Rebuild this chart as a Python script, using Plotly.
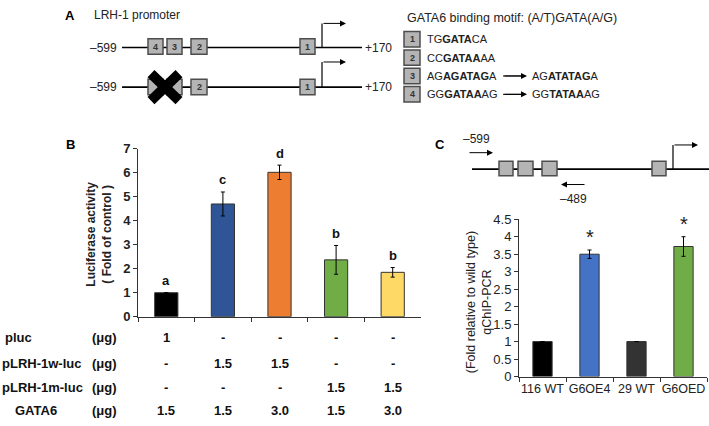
import plotly.graph_objects as go

W, H = 709, 426
FONT = "Arial, Liberation Sans, sans-serif"

# ---------------- Data ----------------
# Panel B
b_groups = ["G1", "G2", "G3", "G4", "G5"]
b_values = [1.0, 4.7, 6.02, 2.37, 1.85]
b_errors = [0.0, 0.5, 0.3, 0.6, 0.2]
b_letters = ["a", "c", "d", "b", "b"]
b_colors = ["#000000", "#2f5597", "#ed7d31", "#70ad47", "#ffd966"]
b_ytitle = ["Luciferase activity", "( Fold of control )"]
row_names = ["pluc", "pLRH-1w-luc", "pLRH-1m-luc", "GATA6"]
row_pluc = ["1", "-", "-", "-", "-"]
row_w = ["-", "1.5", "1.5", "-", "-"]
row_m = ["-", "-", "-", "1.5", "1.5"]
row_gata6 = ["1.5", "1.5", "3.0", "1.5", "3.0"]
table_rows = [row_pluc, row_w, row_m, row_gata6]

# Panel C
c_groups = ["116 WT", "G6OE4", "29 WT", "G6OED"]
c_values = [1.0, 3.5, 1.0, 3.72]
c_errors = [0.0, 0.12, 0.0, 0.28]
c_marks = ["", "*", "", "*"]
c_colors = ["#000000", "#4472c4", "#333333", "#70ad47"]

# Panel A motif text
motif_nums = ["1", "2", "3", "4"]
motif_seqs = ["TG<b>GATA</b>CA", "CC<b>GATAA</b>AA", "AG<b>AGATAG</b>A", "GG<b>GATAA</b>AG"]
motif_mut = ["", "", "AG<b>ATATAG</b>A", "GG<b>TATAA</b>AG"]


def px(x):
    return x / W


def py(y):
    return 1 - y / H


fig = go.Figure()

# Panel B bars
fig.add_trace(go.Bar(
    x=b_groups, y=b_values, width=0.41,
    marker=dict(color=b_colors, line=dict(color="#333333", width=1)),
    error_y=dict(type="data", array=b_errors, visible=True, color="#000000", thickness=1, width=2),
    xaxis="x", yaxis="y", showlegend=False, hoverinfo="skip"))

# Panel C bars
fig.add_trace(go.Bar(
    x=c_groups, y=c_values, width=0.41,
    marker=dict(color=c_colors, line=dict(color="#333333", width=1)),
    error_y=dict(type="data", array=c_errors, visible=True, color="#000000", thickness=1, width=2),
    xaxis="x2", yaxis="y2", showlegend=False, hoverinfo="skip"))

shapes = []
ann = []


def line(x0, y0, x1, y1, w=1.5, color="#000000"):
    shapes.append(dict(type="line", xref="paper", yref="paper",
                       x0=px(x0), y0=py(y0), x1=px(x1), y1=py(y1),
                       line=dict(color=color, width=w)))


def box(x0, y0, x1, y1):
    shapes.append(dict(type="rect", xref="paper", yref="paper",
                       x0=px(x0), y0=py(y0), x1=px(x1), y1=py(y1),
                       fillcolor="#b4b4b4", line=dict(color="#4d4d4d", width=1.5)))


def text(x, y, s, size=12, xanchor="left", bold=False, color="#222222", angle=0):
    ann.append(dict(xref="paper", yref="paper", x=px(x), y=py(y), text=("<b>%s</b>" % s) if bold else s,
                    showarrow=False, xanchor=xanchor, yanchor="middle", textangle=angle,
                    font=dict(family=FONT, size=size, color=color)))


def arrow(x_tail, y_tail, x_head, y_head):
    ann.append(dict(xref="paper", yref="paper", x=px(x_head), y=py(y_head),
                    ax=x_tail - x_head, ay=y_tail - y_head, axref="pixel", ayref="pixel",
                    text="", showarrow=True, arrowhead=2, arrowsize=1.2, arrowwidth=1,
                    arrowcolor="#000000", standoff=0, startstandoff=0))


# ---------------- Panel A ----------------
text(70, 9, "A", size=13, xanchor="center", bold=True, color="#000000")
text(92, 8, "LRH-1 promoter", size=12)
for yc, top in [(42, 17), (83, 57)]:
    line(122, yc, 362, yc, w=1.6)
    text(119, yc, "\u2013599", size=12, xanchor="right")
    text(363, yc, "+170", size=12)
    # transcription start arrow
    line(322, yc, 322, top, w=1.2)
    arrow(322, top, 346, top)
# row 1 boxes
for (x0, x1), lab in zip([(148, 163), (167, 182), (191, 207), (300, 315)], ["4", "3", "2", "1"]):
    box(x0, 33, x1, 49)
    text((x0 + x1) / 2, 41, lab, size=9, xanchor="center", bold=True, color="#333333")
for (x0, x1), lab in zip([(148, 163), (167, 182), (191, 207), (300, 315)], ["4", "3", "2", "1"]):
    box(x0, 75, x1, 91)
    if lab in ("2", "1"):
        text((x0 + x1) / 2, 83, lab, size=9, xanchor="center", bold=True, color="#333333")
# X mark
line(151, 69, 179, 97, w=10)
line(151, 97, 179, 69, w=10)

# motif legend
text(405, 11, "GATA6 binding motif: (A/T)GATA(A/G)", size=12.5)
for i, (num, seq, mut) in enumerate(zip(motif_nums, motif_seqs, motif_mut)):
    yc = 33.5 + i * 19
    box(404, yc - 8, 420, yc + 8)
    text(412, yc, num, size=9, xanchor="center", bold=True, color="#333333")
    text(425, yc, seq, size=11)
    if mut:
        line(503, yc, 522, yc, w=1)
        arrow(503, yc, 527, yc)
        text(530, yc, mut, size=11)

# ---------------- Panel B extras ----------------
text(70, 143, "B", size=13, xanchor="center", bold=True, color="#000000")
ann.append(dict(xref="paper", yref="paper", x=px(99), y=py(236),
                text="<b>%s<br>%s</b>" % tuple(b_ytitle), showarrow=False, textangle=-90,
                xanchor="center", yanchor="middle", font=dict(family=FONT, size=12, color="#222222")))
for g, v, e, l in zip(b_groups, b_values, b_errors, b_letters):
    ann.append(dict(xref="x", yref="y", x=g, y=v + e, text="<b>%s</b>" % l, showarrow=False,
                    yshift=12, yanchor="middle", font=dict(family=FONT, size=13, color="#111111")))
row_y = [343, 369, 394, 418]
row_x = [3, 0, 0, 13]
for name, vals, yy, xx in zip(row_names, table_rows, row_y, row_x):
    text(xx, yy, name, size=13, bold=True, color="#111111")
    text(119, yy, "(\u03bcg)", size=13, xanchor="right", bold=True, color="#111111")
    for g, v in zip(b_groups, vals):
        ann.append(dict(xref="x", yref="paper", x=g, y=py(yy), text="<b>%s</b>" % v, showarrow=False,
                        yanchor="middle", font=dict(family=FONT, size=13, color="#111111")))

# ---------------- Panel C extras ----------------
text(440, 143, "C", size=13, xanchor="center", bold=True, color="#000000")
text(477, 137, "\u2013599", size=12, xanchor="center")
arrow(468, 151, 493, 151)
line(472, 168, 709, 168, w=1.6)
for x0, x1 in [(499, 513), (518, 533), (542, 557), (652, 666)]:
    box(x0, 160, x1, 175)
line(673, 168, 673, 143, w=1.2)
arrow(673, 143, 698, 143)
arrow(586, 184, 561, 184)
text(573, 199, "\u2013489", size=12, xanchor="center")
ann.append(dict(xref="paper", yref="paper", x=px(479), y=py(306),
                text="(Fold relative to wild type)<br>qChIP-PCR", showarrow=False, textangle=-90,
                xanchor="center", yanchor="middle", font=dict(family=FONT, size=12.5, color="#222222")))
for g, v, e, m in zip(c_groups, c_values, c_errors, c_marks):
    if m:
        ann.append(dict(xref="x2", yref="y2", x=g, y=v + e, text=m, showarrow=False,
                        yshift=13, yanchor="middle", font=dict(family=FONT, size=20, color="#222222")))

axis_common = dict(showgrid=False, zeroline=False, showline=True, linecolor="#333333", linewidth=1,
                   ticks="outside", tickcolor="#333333", ticklen=4)

fig.update_layout(
    width=W, height=H, margin=dict(l=0, r=0, t=0, b=0),
    paper_bgcolor="#ffffff", plot_bgcolor="#ffffff",
    font=dict(family=FONT, color="#222222"),
    bargap=0.5,
    xaxis=dict(domain=[px(138), px(421)], anchor="y", showticklabels=False, tickson="boundaries",
               **axis_common),
    yaxis=dict(domain=[py(321), py(147)], anchor="x", range=[0, 7], dtick=1,
               tickfont=dict(family=FONT, size=13, color="#222222", weight="bold"), **axis_common),
    xaxis2=dict(domain=[px(519), px(707)], anchor="y2", tickson="boundaries", tickangle=0,
                tickfont=dict(family=FONT, size=12.5, color="#222222"), **axis_common),
    yaxis2=dict(domain=[py(383), py(220)], anchor="x2", range=[0, 4.5], dtick=0.5,
                tickfont=dict(family=FONT, size=13, color="#222222"), **axis_common),
    shapes=shapes, annotations=ann,
)

fig.write_html("out.html", config={"displayModeBar": False},
               post_script="document.body.style.margin='0';document.body.style.overflow='hidden';")
